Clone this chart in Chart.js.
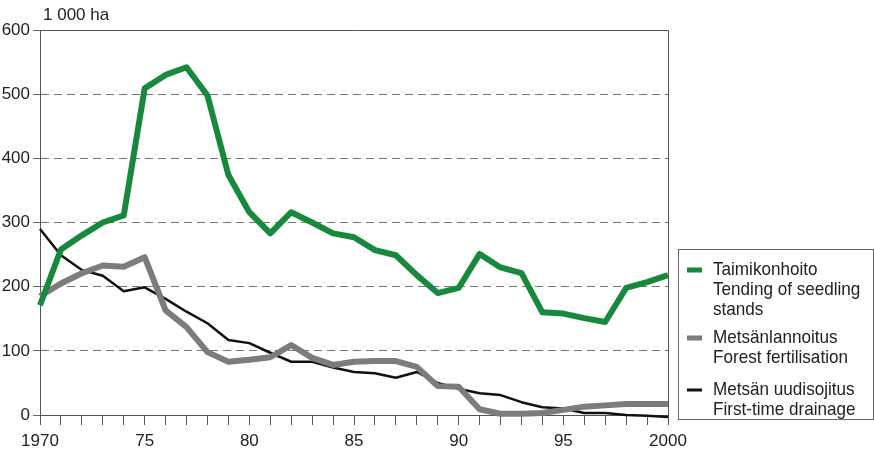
<!DOCTYPE html>
<html>
<head>
<meta charset="utf-8">
<script src="https://cdn.jsdelivr.net/npm/chart.js@4"></script>
<style>
  html, body { margin: 0; padding: 0; background: #fff; }
  #wrap { width: 874px; height: 460px; position: relative; }
</style>
</head>
<body>
<div id="wrap"><canvas id="chart"></canvas></div>
<script>
const years = [1970, 1971, 1972, 1973, 1974, 1975, 1976, 1977, 1978, 1979,
  1980, 1981, 1982, 1983, 1984, 1985, 1986, 1987, 1988, 1989,
  1990, 1991, 1992, 1993, 1994, 1995, 1996, 1997, 1998, 1999, 2000];

// 1 000 ha
const tending = [171, 258, 280, 300, 311, 509, 530, 542, 498, 374,
  316, 283, 316, 300, 283, 277, 257, 249, 218, 190,
  198, 251, 230, 221, 160, 158, 151, 145, 198, 207, 218];
const fertilisation = [185, 205, 221, 233, 231, 246, 163, 137, 98, 83,
  86, 90, 109, 89, 78, 83, 84, 84, 75, 45,
  44, 9, 2, 2, 3, 8, 13, 15, 17, 17, 17];
const drainage = [290, 249, 226, 217, 193, 199, 181, 161, 143, 117,
  112, 97, 83, 83, 74, 67, 65, 58, 67, 50,
  41, 34, 31, 20, 12, 10, 3, 3, 0, -1, -3];

const unitLabel = '1 000 ha';
const legendLines = [
  ['Taimikonhoito', 'Tending of seedling', 'stands'],
  ['Metsänlannoitus', 'Forest fertilisation'],
  ['Metsän uudisojitus', 'First-time drainage']
];
const colors = ['#17893d', '#7c7c7c', '#111111'];

const FONT_FAMILY = '"Liberation Sans", Arial, sans-serif';
const textColor = '#222';

// frame, unit label and the boxed legend at the right
const legendBox = {
  id: 'legendBox',
  afterDraw(chart) {
    const { ctx, chartArea: a } = chart;
    ctx.save();

    ctx.strokeStyle = '#555';
    ctx.lineWidth = 1;
    ctx.beginPath();
    ctx.moveTo(a.left, Math.round(a.top) + 0.5);
    ctx.lineTo(Math.round(a.right) + 0.5, Math.round(a.top) + 0.5);
    ctx.lineTo(Math.round(a.right) + 0.5, a.bottom);
    ctx.stroke();

    ctx.fillStyle = textColor;
    ctx.font = '17px ' + FONT_FAMILY;
    ctx.textBaseline = 'alphabetic';
    ctx.textAlign = 'left';
    ctx.fillText(unitLabel, a.left + 3, a.top - 10);

    ctx.strokeStyle = '#666';
    ctx.strokeRect(678.5, 249.5, 195, 170);
    ctx.font = '19px ' + FONT_FAMILY;
    ctx.textBaseline = 'middle';
    const starts = [270, 338, 390];
    const widths = [5, 5, 3];
    legendLines.forEach((lines, i) => {
      ctx.fillStyle = colors[i];
      ctx.fillRect(687, starts[i] - widths[i] / 2, 15, widths[i]);
      ctx.fillStyle = textColor;
      lines.forEach((t, j) => {
        ctx.save();
        ctx.translate(713, starts[i] + j * 20);
        ctx.scale(0.9, 1);
        ctx.fillText(t, 0, 0);
        ctx.restore();
      });
    });
    ctx.restore();
  }
};

new Chart(document.getElementById('chart'), {
  type: 'line',
  data: {
    labels: years,
    datasets: [
      { label: legendLines[0].join(' '), data: tending, borderColor: colors[0], borderWidth: 6 },
      { label: legendLines[1].join(' '), data: fertilisation, borderColor: colors[1], borderWidth: 6 },
      { label: legendLines[2].join(' '), data: drainage, borderColor: colors[2], borderWidth: 2.5 }
    ].map(d => Object.assign(d, {
      pointRadius: 0, tension: 0, fill: false, borderJoinStyle: 'round', clip: 8
    }))
  },
  options: {
    responsive: true,
    maintainAspectRatio: false,
    animation: false,
    layout: { padding: { top: 30, right: 206, left: 0, bottom: 0 } },
    plugins: { legend: { display: false }, tooltip: { enabled: false } },
    scales: {
      x: {
        type: 'category',
        offset: false,
        afterFit: s => { s.height = 45; },
        grid: { drawOnChartArea: false, tickLength: 10, tickColor: '#555' },
        border: { color: '#555', width: 1 },
        ticks: {
          autoSkip: false, maxRotation: 0, padding: 6,
          color: textColor, font: { family: FONT_FAMILY, size: 17 },
          callback: (v, i) => {
            const y = years[i];
            if (y % 5 !== 0) return '';
            return (y === 1970 || y === 2000) ? String(y) : String(y).slice(2);
          }
        }
      },
      y: {
        min: 0, max: 600,
        afterFit: s => { s.width = 40; },
        grid: {
          color: c => (c.tick.value === 0 || c.tick.value === 600) ? 'rgba(0,0,0,0)' : '#777',
          tickColor: '#666', tickLength: 7, tickBorderDash: [8, 5]
        },
        border: { color: '#555', width: 1, dash: [8, 5] },
        ticks: {
          stepSize: 100, padding: 3,
          color: textColor, font: { family: FONT_FAMILY, size: 17 }
        }
      }
    }
  },
  plugins: [legendBox]
});
</script>
</body>
</html>
